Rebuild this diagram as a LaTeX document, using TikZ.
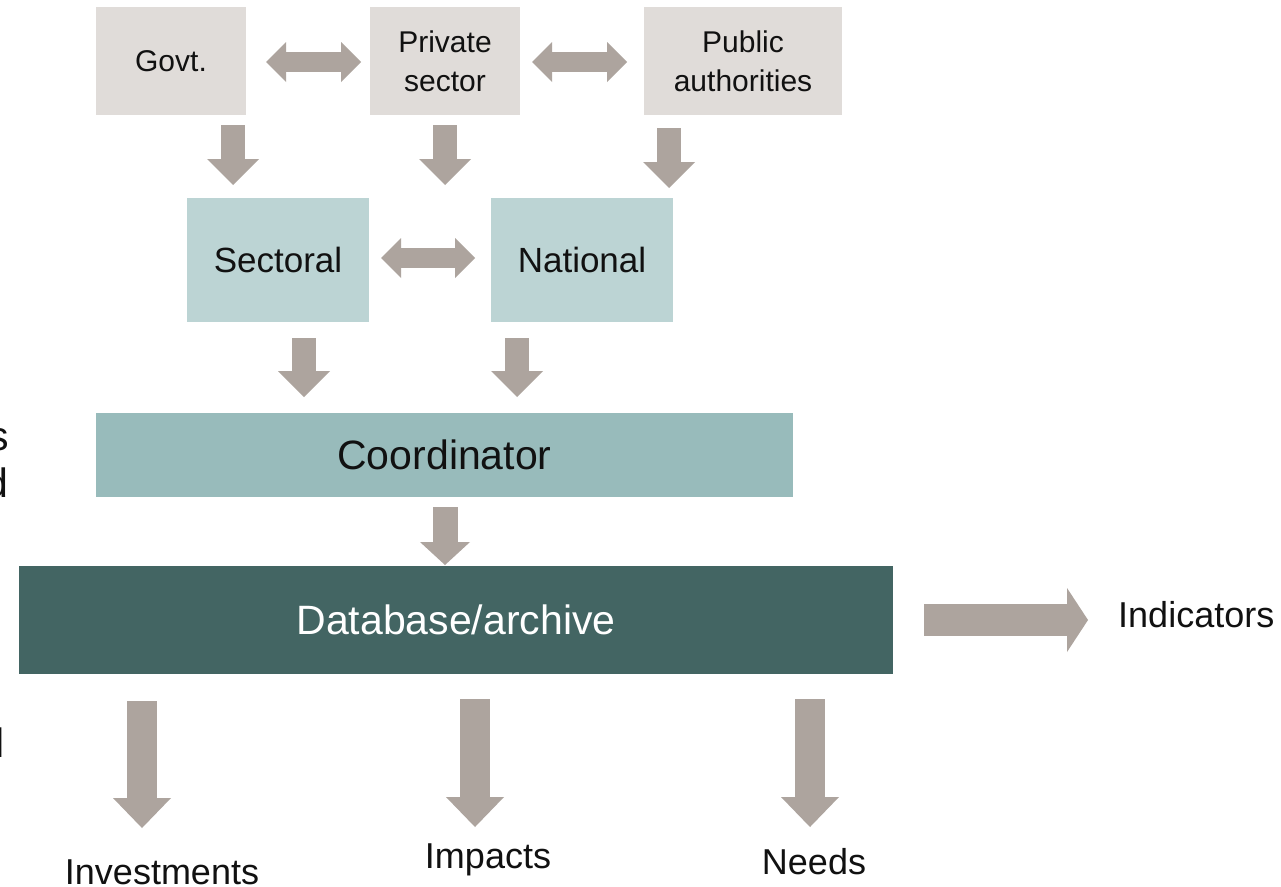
\documentclass[tikz,border=0pt]{standalone}
\usepackage{fontspec}
\setmainfont{Liberation Sans}
\usetikzlibrary{arrows.meta}
\definecolor{boxgrey}{HTML}{E0DCD9}
\definecolor{arrowgrey}{HTML}{ADA49E}
\definecolor{lightteal}{HTML}{BCD4D4}
\definecolor{midteal}{HTML}{98BBBB}
\definecolor{darkteal}{HTML}{436563}
\definecolor{ink}{HTML}{111111}
\tikzset{
  box/.style={inner sep=0pt, align=center, text=ink},
  topbox/.style={box, fill=boxgrey, minimum height=108pt, font=\fontsize{30}{39}\selectfont},
  midbox/.style={box, fill=lightteal, minimum width=182pt, minimum height=124pt, font=\fontsize{35}{42}\selectfont},
  label/.style={inner sep=0pt, text=ink, font=\fontsize{36}{43}\selectfont},
  tipTop/.tip={Triangle[width=52pt,length=26pt,line width=0pt]},
  tipDbl/.tip={Triangle[width=40pt,length=20pt,line width=0pt]},
  tipCo/.tip={Triangle[width=50pt,length=23pt,line width=0pt]},
  tipBot/.tip={Triangle[width=58pt,length=30pt,line width=0pt]},
  tipInd/.tip={Triangle[width=64pt,length=21pt,line width=0pt]},
  downA/.style={draw=arrowgrey, line width=24pt, -tipTop},
  dblA/.style={draw=arrowgrey, line width=20pt, tipDbl-tipDbl},
  coA/.style={draw=arrowgrey, line width=25pt, -tipCo},
  botA/.style={draw=arrowgrey, line width=30pt, -tipBot},
  indA/.style={draw=arrowgrey, line width=32pt, -tipInd},
}
\begin{document}
\begin{tikzpicture}[x=1pt,y=-1pt]
\clip (0,0) rectangle (1281,886);
\fill[white] (0,0) rectangle (1281,886);

% clipped fragments of text at left edge
\node[label, anchor=base east, font=\fontsize{41}{48}\selectfont] (fs) at (9,450) {s};
\node[label, anchor=base east, font=\fontsize{41}{48}\selectfont] (fd) at (9,497) {d};
\node[label, anchor=base west, font=\fontsize{41}{48}\selectfont] (fl) at (-4.3,757) {l};

% top row
\node[topbox, minimum width=150pt] (govt) at (171,61) {Govt.};
\node[topbox, minimum width=150pt] (priv) at (445,61) {Private\\sector};
\node[topbox, minimum width=198pt] (pub) at (743,61) {Public\\authorities};

% middle row
\node[midbox] (sect) at (278,260) {Sectoral};
\node[midbox] (nat) at (582,260) {National};

% coordinator and database
\node[box, fill=midteal, minimum width=697pt, minimum height=84pt, font=\fontsize{41}{48}\selectfont] (coord) at (444.5,455) {Coordinator};
\node[box, fill=darkteal, text=white, minimum width=874pt, minimum height=108pt, font=\fontsize{41}{48}\selectfont] (db) at (456,620) {Database/archive};

% outputs
\node[label, anchor=west] (ind) at (1118,615) {Indicators};
\node[label, anchor=base] (inv) at (162,884) {Investments};
\node[label, anchor=base] (imp) at (488,868) {Impacts};
\node[label, anchor=base] (need) at (814,874) {Needs};

% arrow end points
\coordinate (g1) at (233,125); \coordinate (g2) at (233,185);
\coordinate (p1) at (445,125); \coordinate (p2) at (445,185);
\coordinate (u1) at (669,128); \coordinate (u2) at (669,188);
\coordinate (d1a) at (266,62); \coordinate (d1b) at (361,62);
\coordinate (d2a) at (532,62); \coordinate (d2b) at (627,62);
\coordinate (d3a) at (381,258); \coordinate (d3b) at (475,258);
\coordinate (s1) at (304,338); \coordinate (s2) at (304,397);
\coordinate (n1) at (517,338); \coordinate (n2) at (517,397);
\coordinate (c1) at (445,507); \coordinate (c2) at (445,565);
\coordinate (b1a) at (142,701); \coordinate (b1b) at (142,828);
\coordinate (b2a) at (475,699); \coordinate (b2b) at (475,827);
\coordinate (b3a) at (810,699); \coordinate (b3b) at (810,827);
\coordinate (i1) at (924,620); \coordinate (i2) at (1088,620);

\draw[downA] (g1) -- (g2);
\draw[downA] (p1) -- (p2);
\draw[downA] (u1) -- (u2);
\draw[dblA] (d1a) -- (d1b);
\draw[dblA] (d2a) -- (d2b);
\draw[dblA] (d3a) -- (d3b);
\draw[downA] (s1) -- (s2);
\draw[downA] (n1) -- (n2);
\draw[coA] (c1) -- (c2);
\draw[botA] (b1a) -- (b1b);
\draw[botA] (b2a) -- (b2b);
\draw[botA] (b3a) -- (b3b);
\draw[indA] (i1) -- (i2);
\end{tikzpicture}
\end{document}
